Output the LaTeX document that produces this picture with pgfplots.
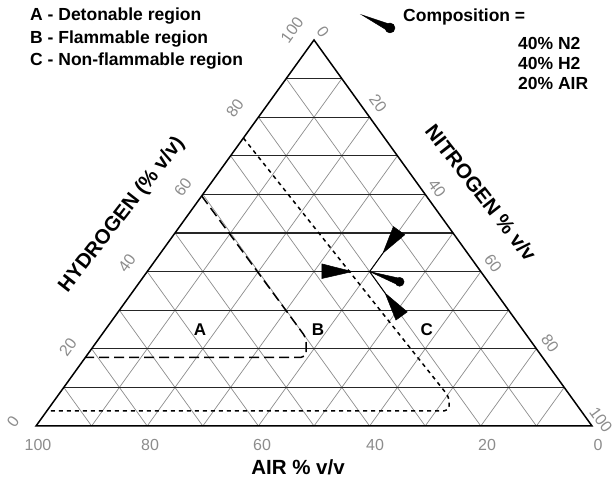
\documentclass[border=0pt]{standalone}
\usepackage{pgfplots}
\pgfplotsset{compat=1.18}
\usepackage{fontspec}
\setmainfont{Liberation Sans}
\begin{document}
\begin{tikzpicture}[x=1bp,y=1bp]
\begin{axis}[
  at={(0,0)}, anchor=south west,
  scale only axis, width=556bp, height=386bp,
  xmin=0, xmax=100, ymin=0, ymax=100,
  axis lines=none, clip=false,
  hgrid/.style={black!85, line width=1.1bp},
  dgrid/.style={black!45, line width=0.7bp},
]
% diagonal grid: constant AIR
\addplot[dgrid] coordinates {(90,0)(45,90)};
\addplot[dgrid] coordinates {(80,0)(40,80)};
\addplot[dgrid] coordinates {(70,0)(35,70)};
\addplot[dgrid] coordinates {(60,0)(30,60)};
\addplot[dgrid] coordinates {(50,0)(25,50)};
\addplot[dgrid] coordinates {(40,0)(20,40)};
\addplot[dgrid] coordinates {(30,0)(15,30)};
\addplot[dgrid] coordinates {(20,0)(10,20)};
\addplot[dgrid] coordinates {(10,0)(5,10)};
% diagonal grid: constant NITROGEN
\addplot[dgrid] coordinates {(10,0)(55,90)};
\addplot[dgrid] coordinates {(20,0)(60,80)};
\addplot[dgrid] coordinates {(30,0)(65,70)};
\addplot[dgrid] coordinates {(40,0)(70,60)};
\addplot[dgrid] coordinates {(50,0)(75,50)};
\addplot[dgrid] coordinates {(60,0)(80,40)};
\addplot[dgrid] coordinates {(70,0)(85,30)};
\addplot[dgrid] coordinates {(80,0)(90,20)};
\addplot[dgrid] coordinates {(90,0)(95,10)};
% horizontal grid: constant HYDROGEN
\addplot[hgrid] coordinates {(5,10)(95,10)};
\addplot[hgrid] coordinates {(10,20)(90,20)};
\addplot[hgrid] coordinates {(15,30)(85,30)};
\addplot[hgrid] coordinates {(20,40)(80,40)};
\addplot[hgrid] coordinates {(25,50)(75,50)};
\addplot[hgrid] coordinates {(30,60)(70,60)};
\addplot[hgrid] coordinates {(35,70)(65,70)};
\addplot[hgrid] coordinates {(40,80)(60,80)};
\addplot[hgrid] coordinates {(45,90)(55,90)};
% triangle
\addplot[black, line width=1.5bp, line join=miter] coordinates {(0,0)(100,0)(50,100)} -- cycle;
% region A boundary (long dashes)
\addplot[black, line width=1.5bp, dash pattern=on 10bp off 5bp, rounded corners=5bp]
  coordinates {(29.8,59.6)(48.6,22.8)(48.6,17.8)(8.9,17.8)};
% region B boundary (short dashes)
\addplot[black, line width=1.5bp, dash pattern=on 4bp off 4bp, rounded corners=5bp]
  coordinates {(37.3,74.6)(74.3,7.5)(74.3,3.9)(1.95,3.9)};
% arrows from composition point
\addplot[black, line width=1bp] coordinates {(60,40)(56.9,40)};
\addplot[black, fill=black, line width=0.5bp] coordinates {(56.9,40)(51.4,42.0)(51.4,38.2)} -- cycle;
\addplot[black, line width=1bp] coordinates {(60,40)(62.4,44.8)};
\addplot[black, fill=black, line width=0.5bp] coordinates {(62.4,44.8)(66.32,49.54)(64.28,51.66)} -- cycle;
\addplot[black, line width=1bp] coordinates {(60,40)(62.8,34.4)};
\addplot[black, fill=black, line width=0.5bp] coordinates {(62.8,34.4)(66.77,29.56)(64.73,27.44)} -- cycle;
% composition pin
\addplot[black, fill=black, line width=0.5bp] coordinates {(60,40)(65.2,36.5)(65.6,38.2)} -- cycle;
\addplot[only marks, mark=*, mark size=4.5bp, black] coordinates {(65.4,37.35)};
% legend pin
\addplot[black, fill=black, line width=0.5bp] coordinates {(58.63,106.48)(63.40,102.28)(63.94,103.94)} -- cycle;
\addplot[only marks, mark=*, mark size=5bp, black] coordinates {(63.67,103.11)};
% region letters
\node[font=\fontsize{17bp}{17bp}\selectfont\bfseries] at (axis cs:29.5,24.9) {A};
\node[font=\fontsize{17bp}{17bp}\selectfont\bfseries] at (axis cs:50.7,24.9) {B};
\node[font=\fontsize{17bp}{17bp}\selectfont\bfseries] at (axis cs:70.3,24.9) {C};
\end{axis}
% legend texts
\begin{scope}[every node/.style={inner sep=0pt, anchor=west, font=\fontsize{17.5bp}{20bp}\selectfont\bfseries}]
\node at (-6,410) {A - Detonable region};
\node at (-6,387) {B - Flammable region};
\node at (-6,365) {C - Non-flammable region};
\node at (367,409) {Composition =};
\node at (482,383) {40\% N2};
\node at (482,363) {40\% H2};
\node at (482,343) {20\% AIR};
\end{scope}
% tick labels
\begin{scope}[every node/.style={inner sep=0pt, text=black!45, font=\fontsize{16bp}{16bp}\selectfont}]
\node at (2,-19) {100};
\node at (114,-19) {80};
\node at (226,-19) {60};
\node at (339,-19) {40};
\node at (451,-19) {20};
\node at (562,-19) {0};
\node[rotate=54] at (-23,4) {0};
\node[rotate=54] at (32,79) {20};
\node[rotate=54] at (91,163) {40};
\node[rotate=54] at (147,239) {60};
\node[rotate=54] at (199,318) {80};
\node[rotate=54] at (256,396) {100};
\node[rotate=-54] at (287,394) {0};
\node[rotate=-54] at (342,323) {20};
\node[rotate=-54] at (401,238) {40};
\node[rotate=-54] at (457,163) {60};
\node[rotate=-54] at (514,83) {80};
\node[rotate=-54] at (565,6) {100};
\end{scope}
% axis titles
\begin{scope}[every node/.style={inner sep=0pt, font=\fontsize{20.5bp}{20.5bp}\selectfont\bfseries}]
\node at (262,-41) {AIR \% v/v};
\node[rotate=52] at (86,211) {HYDROGEN (\% v/v)};
\node[rotate=-52] at (445,233) {NITROGEN \% v/v};
\end{scope}
\pgfresetboundingbox
\useasboundingbox (-36,-59) rectangle (580,426);
\end{tikzpicture}
\end{document}
